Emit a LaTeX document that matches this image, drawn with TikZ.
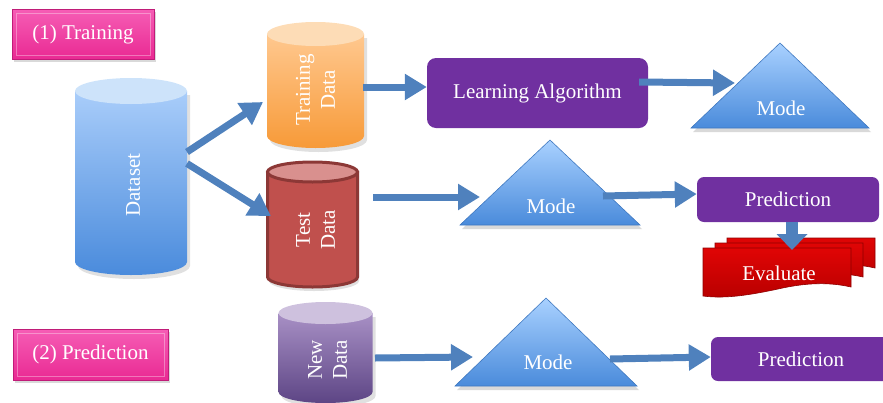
\documentclass[tikz,border=0pt]{standalone}
\usepackage{fontspec}
\setmainfont{Liberation Serif}
\usetikzlibrary{arrows.meta,shadows,calc}
\definecolor{arrowblue}{HTML}{4F81BD}
\definecolor{pinktop}{HTML}{F65DB5}
\definecolor{pinkbot}{HTML}{E92A93}
\definecolor{pinkedge}{HTML}{C01C78}
\definecolor{purp}{HTML}{7030A0}
\definecolor{tritop}{HTML}{A9D1FF}
\definecolor{tribot}{HTML}{4A8BDB}
\definecolor{triedge}{HTML}{3F78C0}
\definecolor{evtop}{HTML}{E00505}
\definecolor{evbot}{HTML}{B80000}
\definecolor{evedge}{HTML}{8E0000}
\definecolor{testfill}{HTML}{C0504D}
\definecolor{testedge}{HTML}{8C3836}
\definecolor{testcap}{HTML}{D9908E}
\definecolor{dstop}{HTML}{A9CDFA}
\definecolor{dsbot}{HTML}{4A8BDC}
\definecolor{dscap}{HTML}{CDE3FA}
\definecolor{trtop}{HTML}{FFC88F}
\definecolor{trbot}{HTML}{F79A38}
\definecolor{trcap}{HTML}{FDDCB6}
\definecolor{ndtop}{HTML}{A890C5}
\definecolor{ndbot}{HTML}{5D4585}
\definecolor{ndcap}{HTML}{CEC1DE}
\newcommand\mycyl[8]{%
  \fill[black,opacity=0.12] (#1-#2+3,#3+4) -- (#1-#2+3,#4+4) arc[start angle=180,end angle=0,x radius=#2,y radius=#5] -- (#1+#2+3,#3+4) -- cycle;
  \shade[top color=#6,bottom color=#7] (#1-#2,#3) -- (#1-#2,#4) arc[start angle=180,end angle=0,x radius=#2,y radius=#5] -- (#1+#2,#3) -- cycle;
  \fill[#8] (#1,#3) ellipse[x radius=#2,y radius=#5];
}
\newcommand\mytri[4]{%
  \fill[black,opacity=0.15] (#1+2,#2+4) -- (#1+#3+2,#4+4) -- (#1-#3+2,#4+4) -- cycle;
  \shade[top color=tritop,bottom color=tribot,draw=triedge,line width=0.6pt] (#1,#2) -- (#1+#3,#4) -- (#1-#3,#4) -- cycle;
}
% #1 shift, #2 bottom-right y
\newcommand\evdoc[2]{%
  \shade[top color=evtop,bottom color=evbot,draw=evedge,line width=0.6pt,shift={#1}]
    (703,248) -- (851,248) -- (851,#2) .. controls (825,#2-6) and (800,#2-3) .. (778,#2+2)
    .. controls (750,#2+8) and (725,#2+12) .. (703,#2+9) -- cycle;
}
\begin{document}
\begin{tikzpicture}[x=1pt,y=-1pt,
  font=\fontsize{21}{25}\selectfont,
  pinkbox/.style={draw=pinkedge,line width=0.8pt,top color=pinktop,bottom color=pinkbot,text=white,inner sep=0pt,
     drop shadow={opacity=0.3,shadow xshift=2pt,shadow yshift=-3pt}},
  purplebox/.style={fill=purp,text=white,inner sep=0pt},
  ghost/.style={inner sep=0pt,outer sep=0pt},
  wtext/.style={text=white,inner sep=0pt,align=center},
  flow/.style={draw=arrowblue,line width=7pt,-{Triangle[length=22pt,width=25pt]}},
  fatflow/.style={draw=arrowblue,line width=12pt,-{Triangle[length=16pt,width=30pt]}}
]
\useasboundingbox (0,0) rectangle (883,402);

% section labels
\node[pinkbox,minimum width=142pt,minimum height=50pt] (train) at (83,34) {(1) Training};
\node[pinkbox,minimum width=155pt,minimum height=51pt] (predlbl) at (90.5,354.5) {(2) Prediction};
\draw[white,opacity=0.35,line width=1pt] (16,13) rectangle (150,55);
\draw[white,opacity=0.35,line width=1pt] (17,333) rectangle (164,376);

% cylinders
\mycyl{131}{56}{91}{262}{13}{dstop}{dsbot}{dscap}
\node[ghost,minimum width=112pt,minimum height=197pt] (dsbox) at (131,176.5) {};
\node[wtext,rotate=90] (dstext) at (133,185) {Dataset};

\mycyl{315.5}{48.5}{34}{136}{12}{trtop}{trbot}{trcap}
\node[ghost,minimum width=97pt,minimum height=126pt] (trbox) at (315.5,85) {};
\node[wtext,rotate=90] (trtext) at (315.5,90) {Training\\Data};

\fill[black,opacity=0.12] (269,176) -- (269,281) arc[start angle=180,end angle=0,x radius=45,y radius=10] -- (359,176) -- cycle;
\draw[testedge,line width=3pt,fill=testfill] (267.5,172) -- (267.5,277) arc[start angle=180,end angle=0,x radius=45,y radius=10] -- (357.5,172) -- cycle;
\draw[testedge,line width=3pt,fill=testcap] (312.5,172) ellipse[x radius=45,y radius=10];
\node[ghost,minimum width=93pt,minimum height=125pt] (tebox) at (312.5,224.5) {};
\node[wtext,rotate=90] (tetext) at (315.5,230) {Test\\Data};

\mycyl{325.5}{47}{313}{392}{11}{ndtop}{ndbot}{ndcap}
\node[ghost,minimum width=95pt,minimum height=98pt] (ndbox) at (325.5,351) {};
\node[wtext,rotate=90] (ndtext) at (327.5,360) {New\\Data};

% learning algorithm and predictions
\node[purplebox,rounded corners=9pt,minimum width=221pt,minimum height=70pt] (la) at (537.5,93) {Learning Algorithm};
\node[purplebox,rounded corners=7pt,minimum width=182pt,minimum height=45pt] (pr1) at (788,199.5) {Prediction};
\node[purplebox,rounded corners=7pt,minimum width=180pt,minimum height=44pt] (pr2) at (801,359) {Prediction};

% models
\mytri{780}{43}{89}{128}
\node[ghost,minimum width=178pt,minimum height=85pt] (m1) at (781,85.5) {};
\node[wtext] (m1text) at (781,108) {Mode};
\mytri{550}{140}{90}{225}
\node[ghost,minimum width=180pt,minimum height=85pt] (m2) at (550,182.5) {};
\node[wtext] (m2text) at (551,206) {Mode};
\mytri{546}{298}{91}{386}
\node[ghost,minimum width=182pt,minimum height=88pt] (m3) at (546,342) {};
\node[wtext] (m3text) at (548,362) {Mode};

% evaluate
\evdoc{(24,-10)}{278}
\evdoc{(12,-5)}{282}
\evdoc{(0,0)}{287}
\node[ghost,minimum width=173pt,minimum height=60pt] (ev) at (789.5,268) {};
\node[wtext] (evtext) at (779,273) {Evaluate};

% connectors
\draw[flow] ([yshift=24.5pt]dsbox.east) -- ([xshift=-4pt,yshift=-17pt]trbox.west);
\draw[flow] ([yshift=13pt]dsbox.east) -- ([xshift=5pt,yshift=8.5pt]tebox.west);
\draw[flow] ([xshift=-1pt,yshift=-2pt]trbox.east) -- ([yshift=6pt]la.west);
\draw[flow] ([xshift=-9pt,yshift=11pt]la.east) -- ([xshift=43pt,yshift=2.5pt]m1.west);
\draw[flow] ([xshift=14pt,yshift=27.5pt]tebox.east) -- ([xshift=20pt,yshift=-14.5pt]m2.west);
\draw[flow] ([xshift=-37pt,yshift=-13.5pt]m2.east) -- ([yshift=5.5pt]pr1.west);
\draw[fatflow] ([xshift=4pt]pr1.south) -- ([xshift=2.5pt,yshift=-12pt]ev.north);
\draw[flow] ([xshift=2pt,yshift=-7pt]ndbox.east) -- ([xshift=18pt,yshift=-15pt]m3.west);
\draw[flow] ([xshift=-27pt,yshift=-17pt]m3.east) -- ([yshift=2pt]pr2.west);
\end{tikzpicture}
\end{document}
